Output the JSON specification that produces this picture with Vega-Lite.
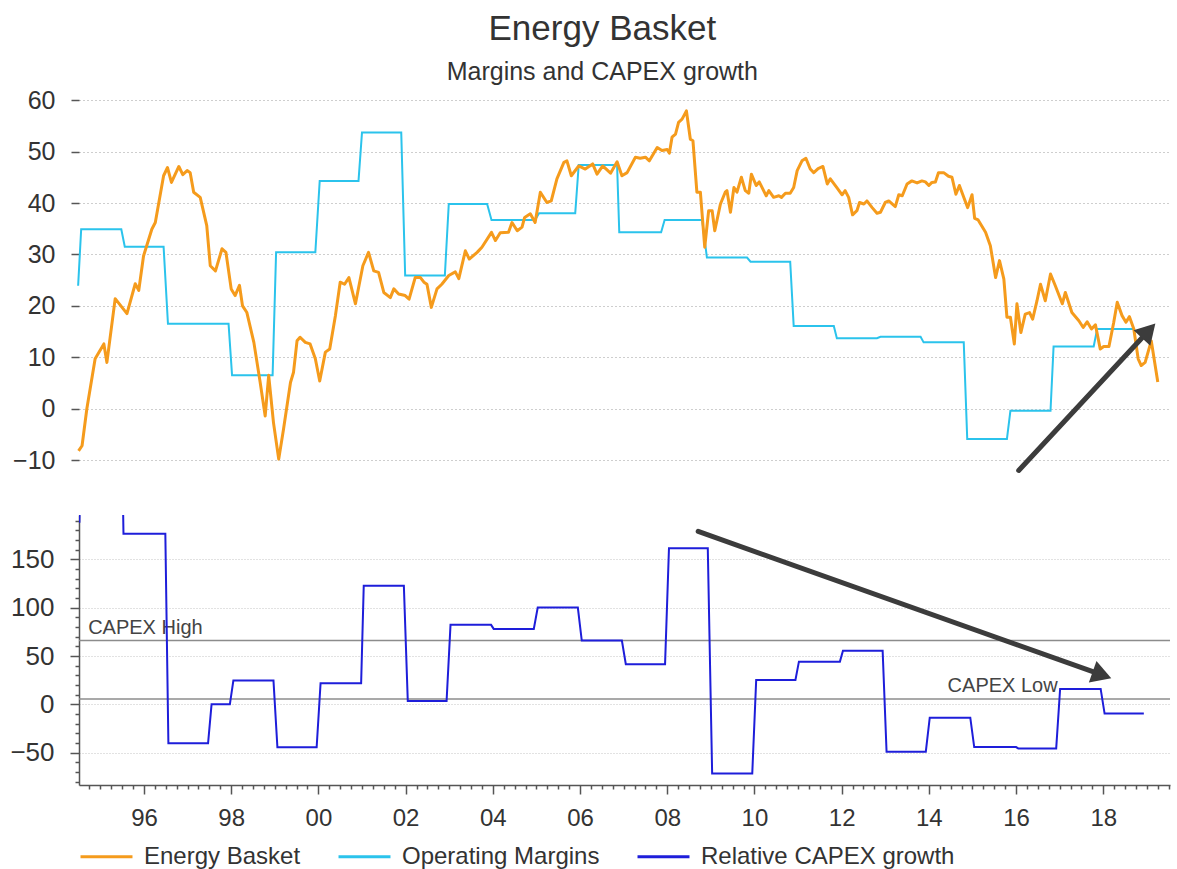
{
  "$schema": "https://vega.github.io/schema/vega-lite/v6.json",
  "background": "white",
  "padding": {"left": 9, "right": 9, "top": 12, "bottom": 0},
  "title": {
    "text": "Energy Basket",
    "subtitle": "Margins and CAPEX growth",
    "font": "Liberation Sans",
    "subtitleFont": "Liberation Sans",
    "fontSize": 35,
    "subtitleFontSize": 25,
    "fontWeight": "normal",
    "color": "#333333",
    "subtitleColor": "#333333",
    "anchor": "middle",
    "dx": 12,
    "subtitlePadding": 13,
    "offset": 3
  },
  "config": {
    "view": {"stroke": null},
    "font": "Liberation Sans",
    "axis": {"labelFont": "Liberation Sans", "labelColor": "#333333", "titleFont": "Liberation Sans"},
    "legend": {"labelFont": "Liberation Sans"}
  },
  "datasets": {
    "basket": [
      {"year":1994.50,"value":-8.2},{"year":1994.58,"value":-7.2},{"year":1994.69,"value":0},{"year":1994.88,"value":9.7},
      {"year":1995.08,"value":12.6},{"year":1995.15,"value":9},{"year":1995.34,"value":21.4},{"year":1995.61,"value":18.5},
      {"year":1995.80,"value":24.3},{"year":1995.88,"value":23},{"year":1995.99,"value":29.7},{"year":1996.18,"value":34.9},
      {"year":1996.26,"value":36.2},{"year":1996.45,"value":45.3},{"year":1996.54,"value":46.9},{"year":1996.63,"value":44},
      {"year":1996.80,"value":47.1},{"year":1996.89,"value":45.5},{"year":1996.99,"value":46.3},{"year":1997.06,"value":45.9},
      {"year":1997.14,"value":42.1},{"year":1997.29,"value":41.1},{"year":1997.44,"value":35.6},{"year":1997.52,"value":27.8},
      {"year":1997.64,"value":26.8},{"year":1997.79,"value":31.1},{"year":1997.88,"value":30.4},{"year":1998.00,"value":23.3},
      {"year":1998.09,"value":22},{"year":1998.19,"value":24},{"year":1998.26,"value":20},{"year":1998.36,"value":18.7},
      {"year":1998.52,"value":12.9},{"year":1998.66,"value":5.4},{"year":1998.78,"value":-1.4},{"year":1998.86,"value":6.5},
      {"year":1998.97,"value":-2.7},{"year":1999.09,"value":-9.8},{"year":1999.20,"value":-4},{"year":1999.36,"value":5.1},
      {"year":1999.43,"value":7.1},{"year":1999.51,"value":13.2},{"year":1999.58,"value":13.9},{"year":1999.70,"value":12.9},
      {"year":1999.81,"value":12.6},{"year":1999.93,"value":9.7},{"year":2000.03,"value":5.4},{"year":2000.16,"value":11},
      {"year":2000.26,"value":11.6},{"year":2000.39,"value":18.1},{"year":2000.50,"value":24.6},{"year":2000.60,"value":24.2},
      {"year":2000.70,"value":25.5},{"year":2000.85,"value":20.4},{"year":2001.02,"value":27.8},{"year":2001.15,"value":30.4},
      {"year":2001.27,"value":26.8},{"year":2001.38,"value":26.5},{"year":2001.50,"value":22.6},{"year":2001.65,"value":21.6},
      {"year":2001.73,"value":23.3},{"year":2001.84,"value":22.3},{"year":2001.99,"value":22},{"year":2002.08,"value":21.3},
      {"year":2002.22,"value":25.5},{"year":2002.34,"value":25.5},{"year":2002.42,"value":24.6},{"year":2002.49,"value":24.2},
      {"year":2002.59,"value":19.7},{"year":2002.72,"value":23.3},{"year":2002.83,"value":24.2},{"year":2002.99,"value":25.9},
      {"year":2003.14,"value":26.6},{"year":2003.22,"value":25.3},{"year":2003.37,"value":30.7},{"year":2003.46,"value":29.1},
      {"year":2003.64,"value":30.4},{"year":2003.75,"value":31.4},{"year":2003.97,"value":34.3},{"year":2004.06,"value":32.7},
      {"year":2004.17,"value":34.2},{"year":2004.36,"value":34.3},{"year":2004.44,"value":36.2},{"year":2004.56,"value":34.6},
      {"year":2004.67,"value":35.3},{"year":2004.73,"value":37.2},{"year":2004.86,"value":37.9},{"year":2004.97,"value":36.2},
      {"year":2005.09,"value":42.1},{"year":2005.24,"value":40.1},{"year":2005.34,"value":40.4},{"year":2005.47,"value":44.7},
      {"year":2005.63,"value":47.9},{"year":2005.70,"value":48.2},{"year":2005.80,"value":45.3},{"year":2005.97,"value":47.2},
      {"year":2006.12,"value":46.6},{"year":2006.29,"value":47.6},{"year":2006.39,"value":45.6},{"year":2006.52,"value":47.2},
      {"year":2006.70,"value":45.8},{"year":2006.85,"value":48.0},{"year":2006.96,"value":45.3},{"year":2007.08,"value":45.9},
      {"year":2007.27,"value":48.9},{"year":2007.38,"value":48.7},{"year":2007.50,"value":48.9},{"year":2007.59,"value":48.2},
      {"year":2007.77,"value":50.8},{"year":2007.88,"value":50.2},{"year":2008.00,"value":50.4},{"year":2008.05,"value":49.7},
      {"year":2008.11,"value":52.8},{"year":2008.19,"value":53.4},{"year":2008.26,"value":55.7},{"year":2008.34,"value":56.3},
      {"year":2008.44,"value":57.9},{"year":2008.53,"value":52.4},{"year":2008.59,"value":52.1},{"year":2008.68,"value":42.1},
      {"year":2008.76,"value":42.1},{"year":2008.86,"value":31.4},{"year":2008.95,"value":38.5},{"year":2009.03,"value":38.5},
      {"year":2009.09,"value":34.6},{"year":2009.22,"value":39.8},{"year":2009.33,"value":42.1},{"year":2009.37,"value":42.4},
      {"year":2009.45,"value":38.2},{"year":2009.53,"value":43},{"year":2009.60,"value":42.1},{"year":2009.70,"value":45},
      {"year":2009.79,"value":42.4},{"year":2009.87,"value":41.9},{"year":2009.93,"value":45.6},{"year":2010.04,"value":43.4},
      {"year":2010.11,"value":44.1},{"year":2010.27,"value":41.4},{"year":2010.33,"value":42.4},{"year":2010.44,"value":41.1},
      {"year":2010.56,"value":41.4},{"year":2010.62,"value":41.1},{"year":2010.71,"value":41.9},{"year":2010.82,"value":41.9},
      {"year":2010.90,"value":43},{"year":2010.98,"value":46.3},{"year":2011.09,"value":48.2},{"year":2011.18,"value":48.7},
      {"year":2011.28,"value":46.6},{"year":2011.36,"value":45.9},{"year":2011.46,"value":46.7},{"year":2011.57,"value":47.1},
      {"year":2011.67,"value":43.7},{"year":2011.74,"value":44.7},{"year":2011.89,"value":43},{"year":2012.01,"value":41.6},
      {"year":2012.08,"value":42.4},{"year":2012.16,"value":41.1},{"year":2012.25,"value":37.7},{"year":2012.35,"value":38.5},
      {"year":2012.41,"value":40.1},{"year":2012.51,"value":39.8},{"year":2012.58,"value":40.4},{"year":2012.70,"value":39.1},
      {"year":2012.81,"value":38},{"year":2012.89,"value":38.2},{"year":2013.00,"value":40.1},{"year":2013.08,"value":40.4},
      {"year":2013.23,"value":39.3},{"year":2013.31,"value":41.6},{"year":2013.39,"value":41.4},{"year":2013.50,"value":43.7},
      {"year":2013.61,"value":44.3},{"year":2013.73,"value":43.9},{"year":2013.84,"value":44.3},{"year":2013.92,"value":44.1},
      {"year":2014.00,"value":43.4},{"year":2014.07,"value":44},{"year":2014.15,"value":44.1},{"year":2014.22,"value":45.9},
      {"year":2014.34,"value":45.9},{"year":2014.45,"value":45.2},{"year":2014.53,"value":45},{"year":2014.62,"value":41.7},
      {"year":2014.70,"value":43.4},{"year":2014.80,"value":41.1},{"year":2014.89,"value":39.1},{"year":2014.99,"value":41.6},
      {"year":2015.05,"value":37},{"year":2015.13,"value":36.7},{"year":2015.30,"value":34.3},{"year":2015.41,"value":31.7},
      {"year":2015.53,"value":25.5},{"year":2015.62,"value":28.8},{"year":2015.72,"value":25.2},{"year":2015.79,"value":17.8},
      {"year":2015.87,"value":17.8},{"year":2015.96,"value":12.6},{"year":2016.02,"value":20.4},{"year":2016.11,"value":14.8},
      {"year":2016.21,"value":18.4},{"year":2016.31,"value":18.7},{"year":2016.38,"value":17.4},{"year":2016.48,"value":21},
      {"year":2016.56,"value":24.2},{"year":2016.67,"value":21},{"year":2016.79,"value":26.2},{"year":2016.90,"value":23.9},
      {"year":2017.06,"value":20.4},{"year":2017.13,"value":22.6},{"year":2017.28,"value":18.7},{"year":2017.44,"value":17.1},
      {"year":2017.54,"value":15.8},{"year":2017.63,"value":16.9},{"year":2017.73,"value":15.5},{"year":2017.82,"value":16.3},
      {"year":2017.93,"value":11.6},{"year":2018.01,"value":12.1},{"year":2018.13,"value":12.1},{"year":2018.24,"value":16.8},
      {"year":2018.32,"value":20.7},{"year":2018.43,"value":18.1},{"year":2018.52,"value":16.8},{"year":2018.60,"value":17.9},
      {"year":2018.70,"value":15.5},{"year":2018.80,"value":9.7},{"year":2018.87,"value":8.4},{"year":2018.96,"value":9},
      {"year":2019.10,"value":13.2},{"year":2019.25,"value":5.2}
    ],
    "margins": [
      {"year":1994.49,"value":23.9},{"year":1994.56,"value":34.9},{"year":1995.48,"value":34.9},{"year":1995.56,"value":31.5},
      {"year":1996.45,"value":31.5},{"year":1996.55,"value":16.5},{"year":1997.94,"value":16.5},{"year":1998.02,"value":6.5},
      {"year":1998.95,"value":6.5},{"year":1999.03,"value":30.4},{"year":1999.93,"value":30.4},{"year":2000.03,"value":44.3},
      {"year":2000.92,"value":44.3},{"year":2001.00,"value":53.7},{"year":2001.90,"value":53.7},{"year":2001.99,"value":25.9},
      {"year":2002.90,"value":25.9},{"year":2002.99,"value":39.8},{"year":2003.87,"value":39.8},{"year":2003.97,"value":36.7},
      {"year":2004.97,"value":36.7},{"year":2005.06,"value":38},{"year":2005.89,"value":38},{"year":2005.97,"value":47.4},
      {"year":2006.85,"value":47.4},{"year":2006.90,"value":34.3},{"year":2007.86,"value":34.3},{"year":2007.94,"value":36.7},
      {"year":2008.80,"value":36.7},{"year":2008.91,"value":29.4},{"year":2009.83,"value":29.4},{"year":2009.91,"value":28.6},
      {"year":2010.82,"value":28.6},{"year":2010.90,"value":16.1},{"year":2011.82,"value":16.1},{"year":2011.89,"value":13.7},
      {"year":2012.81,"value":13.7},{"year":2012.89,"value":14.0},{"year":2013.81,"value":14.0},{"year":2013.88,"value":12.9},
      {"year":2014.80,"value":12.9},{"year":2014.88,"value":-5.9},{"year":2015.79,"value":-5.9},{"year":2015.87,"value":-0.4},
      {"year":2016.79,"value":-0.4},{"year":2016.86,"value":12.1},{"year":2017.78,"value":12.1},{"year":2017.86,"value":15.5},
      {"year":2018.70,"value":15.5}
    ],
    "capex": [
      {"year":1994.52,"value":188},{"year":1994.55,"value":260},{"year":1995.50,"value":260},{"year":1995.53,"value":176.6},
      {"year":1996.49,"value":176.6},{"year":1996.56,"value":-40.4},{"year":1997.47,"value":-40.4},{"year":1997.55,"value":0},
      {"year":1997.97,"value":0},{"year":1998.05,"value":24.6},{"year":1998.97,"value":24.6},{"year":1999.06,"value":-44.5},
      {"year":1999.96,"value":-44.5},{"year":2000.05,"value":21.8},{"year":2000.98,"value":21.8},{"year":2001.04,"value":122.7},
      {"year":2001.96,"value":122.7},{"year":2002.05,"value":3.5},{"year":2002.94,"value":3.5},{"year":2003.03,"value":82.3},
      {"year":2003.96,"value":82.3},{"year":2004.02,"value":78.1},{"year":2004.94,"value":78.1},{"year":2005.03,"value":100.2},
      {"year":2005.95,"value":100.2},{"year":2006.04,"value":66},{"year":2006.96,"value":66},{"year":2007.05,"value":41.5},
      {"year":2007.95,"value":41.5},{"year":2008.04,"value":161.7},{"year":2008.93,"value":161.7},{"year":2009.03,"value":-71.5},
      {"year":2009.95,"value":-71.5},{"year":2010.04,"value":25.3},{"year":2010.94,"value":25.3},{"year":2011.02,"value":44.2},
      {"year":2011.96,"value":44.2},{"year":2012.03,"value":55.6},{"year":2012.94,"value":55.6},{"year":2013.03,"value":-49},
      {"year":2013.93,"value":-49},{"year":2014.02,"value":-13.8},{"year":2014.95,"value":-13.8},{"year":2015.04,"value":-44.2},
      {"year":2016.00,"value":-44.2},{"year":2016.05,"value":-45.6},{"year":2016.92,"value":-45.6},{"year":2017.01,"value":16},
      {"year":2017.94,"value":16},{"year":2018.03,"value":-9.6},{"year":2018.93,"value":-9.6}
    ],
    "levels": [
      {"level":"CAPEX High","value":66,"year":1994.72},
      {"level":"CAPEX Low","value":5.6,"year":2014.43}
    ],
    "arrows": [
      {"panel":"top","part":"shaft","year":2016.06,"value":-12,"year2":2019.04,"value2":15.17},
      {"panel":"top","part":"head","year":2019.04,"value":15.17},
      {"panel":"bottom","part":"shaft","year":2008.71,"value":179,"year2":2017.97,"value2":30.4},
      {"panel":"bottom","part":"head","year":2017.97,"value":30.4}
    ]
  },
  "spacing": 33,
  "resolve": {"scale": {"color": "independent"}},
  "vconcat": [
    {
      "width": 1091,
      "height": 378,
      "encoding": {
        "x": {"field": "year", "type": "quantitative",
              "scale": {"domain": [1994.51, 2019.53], "nice": false, "zero": false},
              "axis": null},
        "y": {"field": "value", "type": "quantitative",
              "scale": {"domain": [-12.5, 61], "nice": false, "zero": false},
              "axis": {"title": null, "values": [-10, 0, 10, 20, 30, 40, 50, 60],
                       "grid": true, "gridDash": [1, 3], "gridColor": "#9c9c9c", "gridWidth": 1,
                       "domain": false, "tickSize": 8, "tickColor": "#555555", "tickWidth": 1.5,
                       "labelFontSize": 25, "labelPadding": 16, "labelColor": "#333333"}}
      },
      "layer": [
        {
          "data": {"name": "margins"},
          "mark": {"type": "line", "strokeWidth": 2},
          "encoding": {
            "color": {"datum": "Operating Margins",
                      "scale": {"domain": ["Energy Basket", "Operating Margins", "Relative CAPEX growth"],
                                "range": ["#F59B1C", "#2BC3EC", "#1E1EDA"]},
                      "legend": null}
          }
        },
        {
          "data": {"name": "basket"},
          "mark": {"type": "line", "strokeWidth": 3, "strokeJoin": "round"},
          "encoding": {
            "color": {"datum": "Energy Basket",
                      "scale": {"domain": ["Energy Basket", "Operating Margins", "Relative CAPEX growth"],
                                "range": ["#F59B1C", "#2BC3EC", "#1E1EDA"]},
                      "legend": null}
          }
        },
        {
          "data": {"name": "arrows"},
          "transform": [{"filter": "datum.panel === 'top' && datum.part === 'shaft'"}],
          "mark": {"type": "rule", "strokeWidth": 5, "color": "#3c3c3c", "strokeCap": "round"},
          "encoding": {"x2": {"field": "year2"}, "y2": {"field": "value2"}}
        },
        {
          "data": {"name": "arrows"},
          "transform": [{"filter": "datum.panel === 'top' && datum.part === 'head'"}],
          "mark": {"type": "point", "shape": "triangle-up", "size": 520, "filled": true,
                   "color": "#3c3c3c", "opacity": 1, "strokeWidth": 0, "angle": 42.8}
        }
      ]
    },
    {
      "width": 1091,
      "height": 270,
      "encoding": {
        "y": {"field": "value", "type": "quantitative",
              "scale": {"domain": [-83.5, 196], "nice": false, "zero": false},
              "axis": {"title": null,
                       "values": [-80, -70, -60, -50, -40, -30, -20, -10, 0, 10, 20, 30, 40, 50, 60, 70, 80, 90, 100, 110, 120, 130, 140, 150, 160, 170, 180, 190],
                       "labelExpr": "datum.value % 50 === 0 ? datum.label : ''",
                       "labelOverlap": false,
                       "grid": true, "gridDash": [1, 2], "gridColor": "#c4c4c4",
                       "gridOpacity": {"condition": {"test": "datum.value % 50 === 0", "value": 1}, "value": 0},
                       "domain": true, "domainColor": "#555555", "domainWidth": 1.5,
                       "tickSize": {"condition": {"test": "datum.value % 50 === 0", "value": 9}, "value": 4},
                       "tickColor": "#555555", "tickWidth": 1.5,
                       "labelFontSize": 26, "labelPadding": 16, "labelColor": "#333333"}}
      },
      "layer": [
        {
          "data": {"name": "levels"},
          "mark": {"type": "rule", "color": "#8c8c8c", "strokeWidth": 1.5}
        },
        {
          "encoding": {
            "x": {"field": "year", "type": "quantitative",
                  "scale": {"domain": [1994.51, 2019.53], "nice": false, "zero": false},
                  "axis": {"title": null,
                           "values": [1994.75, 1995, 1995.25, 1995.5, 1995.75, 1996, 1996.25, 1996.5, 1996.75, 1997, 1997.25, 1997.5, 1997.75, 1998, 1998.25, 1998.5, 1998.75, 1999, 1999.25, 1999.5, 1999.75, 2000, 2000.25, 2000.5, 2000.75, 2001, 2001.25, 2001.5, 2001.75, 2002, 2002.25, 2002.5, 2002.75, 2003, 2003.25, 2003.5, 2003.75, 2004, 2004.25, 2004.5, 2004.75, 2005, 2005.25, 2005.5, 2005.75, 2006, 2006.25, 2006.5, 2006.75, 2007, 2007.25, 2007.5, 2007.75, 2008, 2008.25, 2008.5, 2008.75, 2009, 2009.25, 2009.5, 2009.75, 2010, 2010.25, 2010.5, 2010.75, 2011, 2011.25, 2011.5, 2011.75, 2012, 2012.25, 2012.5, 2012.75, 2013, 2013.25, 2013.5, 2013.75, 2014, 2014.25, 2014.5, 2014.75, 2015, 2015.25, 2015.5, 2015.75, 2016, 2016.25, 2016.5, 2016.75, 2017, 2017.25, 2017.5, 2017.75, 2018, 2018.25, 2018.5, 2018.75, 2019, 2019.25, 2019.5],
                           "labelExpr": "datum.value % 2 === 0 ? format(datum.value % 100, '02d') : ''",
                           "labelOverlap": false,
                           "labelFlush": false,
                           "grid": false,
                           "domain": true, "domainColor": "#555555", "domainWidth": 1.5,
                           "tickSize": {"condition": {"test": "datum.value % 2 === 0", "value": 9}, "value": 4},
                           "tickColor": "#555555", "tickWidth": 1.5,
                           "labelFontSize": 24, "labelPadding": 12, "labelColor": "#333333"}}
          },
          "layer": [
            {
              "data": {"name": "levels"},
              "mark": {"type": "text", "align": "left", "baseline": "alphabetic", "dy": -7,
                       "fontSize": 20, "color": "#444444", "font": "Liberation Sans"},
              "encoding": {"text": {"field": "level"}}
            },
            {
              "data": {"name": "capex"},
              "mark": {"type": "line", "strokeWidth": 2, "clip": true},
              "encoding": {
                "color": {"datum": "Relative CAPEX growth",
                          "scale": {"domain": ["Energy Basket", "Operating Margins", "Relative CAPEX growth"],
                                    "range": ["#F59B1C", "#2BC3EC", "#1E1EDA"]},
                          "legend": {"title": null, "orient": "bottom", "direction": "horizontal",
                                     "symbolType": "stroke", "symbolSize": 2700, "symbolStrokeWidth": 3,
                                     "labelFontSize": 24, "labelColor": "#333333", "labelOffset": 10,
                                     "labelLimit": 500, "columnPadding": 31, "offset": -1}}
              }
            },
            {
              "data": {"name": "arrows"},
              "transform": [{"filter": "datum.panel === 'bottom' && datum.part === 'shaft'"}],
              "mark": {"type": "rule", "strokeWidth": 5, "color": "#3c3c3c", "strokeCap": "round"},
              "encoding": {"x2": {"field": "year2"}, "y2": {"field": "value2"}}
            },
            {
              "data": {"name": "arrows"},
              "transform": [{"filter": "datum.panel === 'bottom' && datum.part === 'head'"}],
              "mark": {"type": "point", "shape": "triangle-up", "size": 520, "filled": true,
                       "color": "#3c3c3c", "opacity": 1, "strokeWidth": 0, "angle": 109.5}
            }
          ]
        }
      ]
    }
  ]
}
